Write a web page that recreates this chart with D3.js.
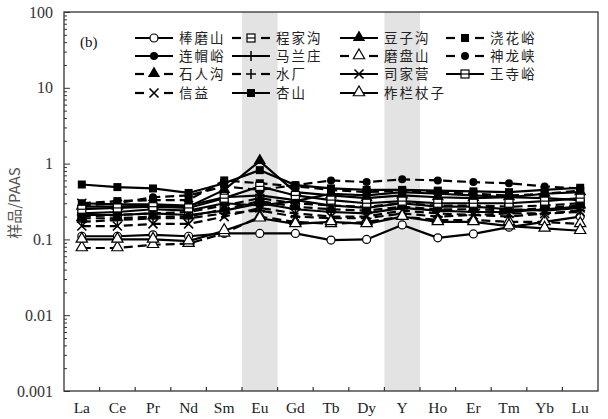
<!DOCTYPE html>
<html>
<head>
<meta charset="utf-8">
<script src="https://cdn.jsdelivr.net/npm/d3@7"></script>
<style>
  body { margin: 0; background: #fff; }
  svg text { font-family: "Liberation Serif", "DejaVu Serif", serif; }
  .cjk { font-family: "Noto Sans CJK SC", sans-serif; }
</style>
</head>
<body>
<svg id="chart" width="608" height="419"></svg>
<script>
// REE elements along the x axis
var elements = ["La", "Ce", "Pr", "Nd", "Sm", "Eu", "Gd", "Tb", "Dy", "Y", "Ho", "Er", "Tm", "Yb", "Lu"];
var shadedElements = ["Eu", "Y"];
var yMajorTicks = [0.001, 0.01, 0.1, 1, 10, 100];
var yTickLabels = ["0.001", "0.01", "0.1", "1", "10", "100"];

// legend order (row by row)
var seriesNames = ["棒磨山", "程家沟", "豆子沟", "浇花峪",
                   "连帽峪", "马兰庄", "磨盘山", "神龙峡",
                   "石人沟", "水厂", "司家营", "王寺峪",
                   "信益", "杏山", "柞栏杖子"];

// sample / PAAS values
var bangmoshan   = [0.11, 0.11, 0.115, 0.11, 0.12, 0.12, 0.12, 0.098, 0.1, 0.155, 0.105, 0.118, 0.145, 0.17, 0.2];
var chengjiagou  = [0.2, 0.21, 0.22, 0.23, 0.28, 0.35, 0.3, 0.28, 0.27, 0.3, 0.28, 0.28, 0.27, 0.28, 0.3];
var douzigou     = [0.27, 0.27, 0.28, 0.27, 0.45, 1.08, 0.42, 0.38, 0.35, 0.38, 0.36, 0.35, 0.36, 0.4, 0.42];
var jiaohuayu    = [0.3, 0.32, 0.33, 0.33, 0.6, 0.55, 0.5, 0.45, 0.42, 0.44, 0.42, 0.4, 0.38, 0.4, 0.44];
var lianmaoyu    = [0.22, 0.23, 0.25, 0.24, 0.3, 0.28, 0.32, 0.4, 0.38, 0.42, 0.4, 0.38, 0.36, 0.35, 0.33];
var malanzhuang  = [0.21, 0.21, 0.22, 0.21, 0.24, 0.3, 0.25, 0.23, 0.22, 0.26, 0.24, 0.23, 0.23, 0.25, 0.27];
var mopanshan    = [0.077, 0.077, 0.085, 0.088, 0.12, 0.2, 0.17, 0.16, 0.17, 0.2, 0.18, 0.18, 0.17, 0.17, 0.16];
var shenlongxia  = [0.28, 0.3, 0.36, 0.38, 0.5, 0.45, 0.52, 0.6, 0.57, 0.62, 0.6, 0.57, 0.55, 0.5, 0.47];
var shirengou    = [0.19, 0.19, 0.2, 0.2, 0.25, 0.32, 0.27, 0.25, 0.24, 0.27, 0.25, 0.25, 0.24, 0.26, 0.28];
var shuichang    = [0.17, 0.18, 0.19, 0.19, 0.22, 0.24, 0.2, 0.19, 0.19, 0.22, 0.2, 0.21, 0.2, 0.22, 0.24];
var sijiaying    = [0.3, 0.29, 0.29, 0.28, 0.36, 0.38, 0.33, 0.28, 0.26, 0.3, 0.27, 0.27, 0.25, 0.24, 0.26];
var wangsiyu     = [0.25, 0.26, 0.27, 0.26, 0.35, 0.5, 0.38, 0.33, 0.3, 0.32, 0.3, 0.3, 0.3, 0.32, 0.35];
var xinyi        = [0.15, 0.15, 0.16, 0.16, 0.2, 0.26, 0.22, 0.2, 0.2, 0.24, 0.22, 0.21, 0.22, 0.22, 0.23];
var xingshan     = [0.53, 0.49, 0.47, 0.41, 0.55, 0.82, 0.52, 0.47, 0.45, 0.45, 0.44, 0.43, 0.42, 0.45, 0.48];
var zhalanzhangzi = [0.1, 0.1, 0.1, 0.095, 0.13, 0.19, 0.16, 0.17, 0.16, 0.2, 0.17, 0.17, 0.15, 0.14, 0.13];

var seriesValues = [bangmoshan, chengjiagou, douzigou, jiaohuayu,
                    lianmaoyu, malanzhuang, mopanshan, shenlongxia,
                    shirengou, shuichang, sijiaying, wangsiyu,
                    xinyi, xingshan, zhalanzhangzi];

// line style + marker for each series
var seriesDashed  = [false, true, false, true, false, false, true, true, true, true, false, false, true, false, false];
var seriesMarkers = ["circleOpen", "squareBar", "triFilled", "squareFilled",
                     "circleFilled", "plus", "triOpen", "circleFilled",
                     "triFilled", "plus", "cross", "squareBar",
                     "cross", "squareFilled", "triOpen"];

var svg = d3.select("#chart");
var margin = {left: 64, right: 10, top: 12, bottom: 28};
var W = 608, H = 419;
var plotRight = W - margin.right, plotBottom = H - margin.bottom;

var x = d3.scaleBand().domain(elements).range([margin.left, plotRight]).padding(0);
var y = d3.scaleLog().domain([0.001, 100]).range([plotBottom, margin.top]);
var cx = function(e){ return x(e) + x.bandwidth() / 2; };

// grey bands behind Eu and Y
svg.selectAll(".band").data(shadedElements).enter().append("rect")
  .attr("class", "band")
  .attr("x", function(d){ return x(d); })
  .attr("y", margin.top)
  .attr("width", x.bandwidth())
  .attr("height", plotBottom - margin.top)
  .attr("fill", "#e3e3e3");

// y axis, major + minor ticks pointing inward
var minorTicks = [];
for (var p = -3; p < 2; p++) {
  for (var m = 2; m < 10; m++) minorTicks.push(m * Math.pow(10, p));
}
svg.append("g")
  .attr("transform", "translate(" + margin.left + ",0)")
  .call(d3.axisLeft(y).tickValues(minorTicks).tickSize(-3).tickFormat(""))
  .call(function(g){ g.select(".domain").remove(); })
  .selectAll("line").attr("stroke", "#333").attr("stroke-width", 1);

var yAxis = svg.append("g")
  .attr("transform", "translate(" + margin.left + ",0)")
  .call(d3.axisLeft(y).tickValues(yMajorTicks).tickSize(-6).tickPadding(11)
        .tickFormat(function(d, i){ return yTickLabels[i]; }));
yAxis.select(".domain").remove();
yAxis.selectAll("line").attr("stroke", "#333").attr("stroke-width", 1);
yAxis.selectAll("text").attr("font-size", 16).attr("fill", "#333")
  .style("font-family", "Liberation Serif");

// x axis labels at band centres, boundary ticks in between
var xAxis = svg.append("g")
  .attr("transform", "translate(0," + plotBottom + ")")
  .call(d3.axisBottom(x).tickSize(0).tickPadding(11));
xAxis.select(".domain").remove();
xAxis.selectAll("text").attr("font-size", 15.5).attr("fill", "#222")
  .style("font-family", "Liberation Serif");

svg.selectAll(".xtick").data(elements.slice(1)).enter().append("line")
  .attr("class", "xtick")
  .attr("x1", function(d){ return x(d); })
  .attr("x2", function(d){ return x(d); })
  .attr("y1", plotBottom)
  .attr("y2", plotBottom - 4)
  .attr("stroke", "#333").attr("stroke-width", 1.2);

// frame
svg.append("rect")
  .attr("x", margin.left).attr("y", margin.top)
  .attr("width", plotRight - margin.left)
  .attr("height", plotBottom - margin.top)
  .attr("fill", "none").attr("stroke", "#333").attr("stroke-width", 1.3);

// y title
svg.append("text")
  .attr("class", "cjk")
  .attr("transform", "translate(20,203) rotate(-90)")
  .attr("text-anchor", "middle")
  .attr("font-size", 15)
  .attr("fill", "#555")
  .text("样品/PAAS");

function drawMarker(g, type, px, py) {
  var s = 4;
  switch (type) {
    case "circleOpen":
      g.append("circle").attr("cx", px).attr("cy", py).attr("r", s)
        .attr("fill", "#fff").attr("stroke", "#000").attr("stroke-width", 1.2);
      break;
    case "circleFilled":
      g.append("circle").attr("cx", px).attr("cy", py).attr("r", s)
        .attr("fill", "#000");
      break;
    case "squareFilled":
      g.append("rect").attr("x", px - s).attr("y", py - s).attr("width", 2 * s).attr("height", 2 * s)
        .attr("fill", "#000");
      break;
    case "squareBar":
      g.append("rect").attr("x", px - s).attr("y", py - s).attr("width", 2 * s).attr("height", 2 * s)
        .attr("fill", "#fff").attr("stroke", "#000").attr("stroke-width", 1.2);
      g.append("line").attr("x1", px - s).attr("x2", px + s).attr("y1", py).attr("y2", py)
        .attr("stroke", "#000").attr("stroke-width", 1.2);
      break;
    case "triFilled":
      g.append("path").attr("d", d3.symbol(d3.symbolTriangle, 65)()).attr("transform", "translate(" + px + "," + (py - 0.5) + ")")
        .attr("fill", "#000");
      break;
    case "triOpen":
      g.append("path").attr("d", d3.symbol(d3.symbolTriangle, 55)()).attr("transform", "translate(" + px + "," + (py - 0.5) + ")")
        .attr("fill", "#fff").attr("stroke", "#000").attr("stroke-width", 1.2);
      break;
    case "plus":
      g.append("path").attr("d", "M" + (px - 5) + "," + py + "H" + (px + 5) + "M" + px + "," + (py - 5) + "V" + (py + 5))
        .attr("stroke", "#000").attr("stroke-width", 1.5).attr("fill", "none");
      break;
    case "cross":
      g.append("path").attr("d", "M" + (px - 4.5) + "," + (py - 4.5) + "L" + (px + 4.5) + "," + (py + 4.5) +
                                 "M" + (px - 4.5) + "," + (py + 4.5) + "L" + (px + 4.5) + "," + (py - 4.5))
        .attr("stroke", "#000").attr("stroke-width", 1.6).attr("fill", "none");
      break;
  }
}

var line = d3.line()
  .x(function(d, i){ return cx(elements[i]); })
  .y(function(d){ return y(d); });

var seriesG = svg.append("g");
seriesValues.forEach(function(vals, k){
  var g = seriesG.append("g");
  g.append("path")
    .attr("d", line(vals))
    .attr("fill", "none")
    .attr("stroke", "#000")
    .attr("stroke-width", 2.2)
    .attr("stroke-dasharray", seriesDashed[k] ? "9,5" : null);
  vals.forEach(function(v, i){
    drawMarker(g, seriesMarkers[k], cx(elements[i]), y(v));
  });
});

// legend, 4 columns
var legColX = [135, 232, 340, 446];
var legSymW = 38;
var legRowY = [38, 56, 74, 93];
var legend = svg.append("g");
seriesNames.forEach(function(name, k){
  var col = k % 4, row = Math.floor(k / 4);
  var x0 = legColX[col], yy = legRowY[row];
  var g = legend.append("g");
  if (seriesDashed[k]) {
    g.append("line").attr("x1", x0).attr("x2", x0 + 9).attr("y1", yy).attr("y2", yy)
      .attr("stroke", "#000").attr("stroke-width", 2.2);
    g.append("line").attr("x1", x0 + legSymW - 9).attr("x2", x0 + legSymW).attr("y1", yy).attr("y2", yy)
      .attr("stroke", "#000").attr("stroke-width", 2.2);
  } else {
    g.append("line").attr("x1", x0).attr("x2", x0 + legSymW).attr("y1", yy).attr("y2", yy)
      .attr("stroke", "#000").attr("stroke-width", 2.2);
  }
  drawMarker(g, seriesMarkers[k], x0 + legSymW / 2, yy);
  g.append("text")
    .attr("class", "cjk")
    .attr("x", x0 + legSymW + 6)
    .attr("y", yy + 5)
    .attr("font-size", 13.5)
    .attr("letter-spacing", 2)
    .attr("fill", "#222")
    .text(name);
});

svg.append("text")
  .attr("x", 80).attr("y", 47)
  .attr("font-size", 15)
  .attr("fill", "#111")
  .text("(b)");
</script>
</body>
</html>
